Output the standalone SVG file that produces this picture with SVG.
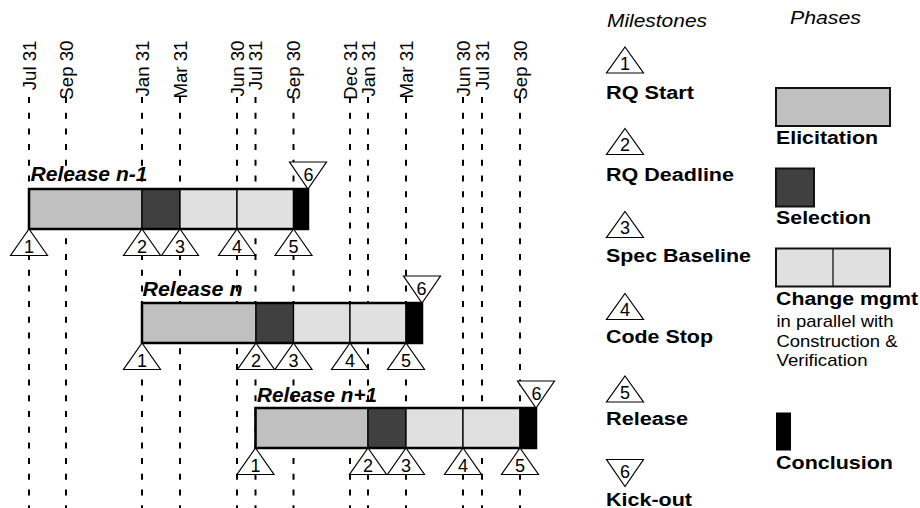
<svg xmlns="http://www.w3.org/2000/svg" width="920" height="508" viewBox="0 0 920 508">
<style>
text{font-family:"Liberation Sans",Arial,Helvetica,sans-serif;fill:#000}
.date{font-size:18.67px;text-anchor:end}
.num{font-size:18px;text-anchor:middle}
.rel{font-size:19.5px;font-weight:bold;font-style:italic}
.lab{font-size:18.67px;font-weight:bold}
.hdr{font-size:18.67px;font-style:italic}
.txt{font-size:17px}
.tri{fill:#fff;stroke:#000;stroke-width:1.2;stroke-linejoin:miter}
.seg{stroke:#000;stroke-width:1.3}
.elic{fill:#c0c0c0}
.sel{fill:#404040}
.chg{fill:#e0e0e0}
.conc{fill:#000}
.frame{fill:none;stroke:#000;stroke-width:2.5}
.box{stroke:#111;stroke-width:2}
</style>
<rect width="920" height="508" fill="#fff"/>

<g id="gridlines" stroke="#000" stroke-width="2" stroke-dasharray="6 9.7" fill="none">
<line x1="29" y1="97" x2="29" y2="508"/>
<line x1="66" y1="97" x2="66" y2="508"/>
<line x1="142" y1="97" x2="142" y2="508"/>
<line x1="180" y1="97" x2="180" y2="508"/>
<line x1="237" y1="97" x2="237" y2="508"/>
<line x1="255.5" y1="97" x2="255.5" y2="508"/>
<line x1="293.5" y1="97" x2="293.5" y2="508"/>
<line x1="350" y1="97" x2="350" y2="508"/>
<line x1="368" y1="97" x2="368" y2="508"/>
<line x1="406" y1="97" x2="406" y2="508"/>
<line x1="463" y1="97" x2="463" y2="508"/>
<line x1="482" y1="97" x2="482" y2="508"/>
<line x1="520" y1="97" x2="520" y2="508"/>
</g>

<g id="dates">
<text class="date" transform="translate(35.5,40.5) rotate(-90)">Jul 31</text>
<text class="date" transform="translate(72.5,40.5) rotate(-90)">Sep 30</text>
<text class="date" transform="translate(148.5,40.5) rotate(-90)">Jan 31</text>
<text class="date" transform="translate(186.5,40.5) rotate(-90)">Mar 31</text>
<text class="date" transform="translate(243.5,40.5) rotate(-90)">Jun 30</text>
<text class="date" transform="translate(262,40.5) rotate(-90)">Jul 31</text>
<text class="date" transform="translate(300,40.5) rotate(-90)">Sep 30</text>
<text class="date" transform="translate(356.5,40.5) rotate(-90)">Dec 31</text>
<text class="date" transform="translate(374.5,40.5) rotate(-90)">Jan 31</text>
<text class="date" transform="translate(412.5,40.5) rotate(-90)">Mar 31</text>
<text class="date" transform="translate(469.5,40.5) rotate(-90)">Jun 30</text>
<text class="date" transform="translate(488.5,40.5) rotate(-90)">Jul 31</text>
<text class="date" transform="translate(526.5,40.5) rotate(-90)">Sep 30</text>
</g>

<g id="release-n-1">
<rect class="seg elic" x="29" y="189" width="113" height="40"/>
<rect class="seg sel" x="142" y="189" width="38" height="40"/>
<rect class="seg chg" x="180" y="189" width="57" height="40"/>
<rect class="seg chg" x="237" y="189" width="56.5" height="40"/>
<rect class="seg conc" x="293.5" y="189" width="14.5" height="40"/>
<rect class="frame" x="29" y="189" width="279" height="40"/>
<text class="rel" x="30.5" y="181" textLength="117" lengthAdjust="spacingAndGlyphs">Release n-1</text>
<path class="tri" d="M29 229L47.5 255.5H10.5Z"/><text class="num" x="29" y="252.5">1</text>
<path class="tri" d="M142 229L160.5 255.5H123.5Z"/><text class="num" x="142" y="252.5">2</text>
<path class="tri" d="M180 229L198.5 255.5H161.5Z"/><text class="num" x="180" y="252.5">3</text>
<path class="tri" d="M237 229L255.5 255.5H218.5Z"/><text class="num" x="237" y="252.5">4</text>
<path class="tri" d="M293.5 229L312 255.5H275Z"/><text class="num" x="293.5" y="252.5">5</text>
<path class="tri" d="M289.5 162H326.5L308 189Z"/><text class="num" x="308.5" y="181">6</text>
</g>

<g id="release-n">
<rect class="seg elic" x="142" y="303" width="114" height="40"/>
<rect class="seg sel" x="256" y="303" width="37.5" height="40"/>
<rect class="seg chg" x="293.5" y="303" width="56.5" height="40"/>
<rect class="seg chg" x="350" y="303" width="56" height="40"/>
<rect class="seg conc" x="406" y="303" width="16" height="40"/>
<rect class="frame" x="142" y="303" width="280" height="40"/>
<text class="rel" x="142.5" y="296" textLength="100" lengthAdjust="spacingAndGlyphs">Release n</text>
<path class="tri" d="M142 343L160.5 369.5H123.5Z"/><text class="num" x="142" y="366.5">1</text>
<path class="tri" d="M256 343L274.5 369.5H237.5Z"/><text class="num" x="256" y="366.5">2</text>
<path class="tri" d="M293.5 343L312 369.5H275Z"/><text class="num" x="293.5" y="366.5">3</text>
<path class="tri" d="M350 343L368.5 369.5H331.5Z"/><text class="num" x="350" y="366.5">4</text>
<path class="tri" d="M406 343L424.5 369.5H387.5Z"/><text class="num" x="406" y="366.5">5</text>
<path class="tri" d="M403.5 276H440.5L422 303Z"/><text class="num" x="421.5" y="295">6</text>
</g>

<g id="release-n-plus-1">
<rect class="seg elic" x="255.5" y="408" width="112.5" height="40"/>
<rect class="seg sel" x="368" y="408" width="38" height="40"/>
<rect class="seg chg" x="406" y="408" width="57" height="40"/>
<rect class="seg chg" x="463" y="408" width="57" height="40"/>
<rect class="seg conc" x="520" y="408" width="16" height="40"/>
<rect class="frame" x="255.5" y="408" width="280.5" height="40"/>
<text class="rel" x="257" y="402" textLength="120" lengthAdjust="spacingAndGlyphs">Release n+1</text>
<path class="tri" d="M255.5 448L274 474.5H237Z"/><text class="num" x="255.5" y="471.5">1</text>
<path class="tri" d="M368 448L386.5 474.5H349.5Z"/><text class="num" x="368" y="471.5">2</text>
<path class="tri" d="M406 448L424.5 474.5H387.5Z"/><text class="num" x="406" y="471.5">3</text>
<path class="tri" d="M463 448L481.5 474.5H444.5Z"/><text class="num" x="463" y="471.5">4</text>
<path class="tri" d="M520 448L538.5 474.5H501.5Z"/><text class="num" x="520" y="471.5">5</text>
<path class="tri" d="M517.5 381H554.5L536 408Z"/><text class="num" x="536.5" y="400">6</text>
</g>

<g id="legend-milestones">
<text class="hdr" x="607" y="27" textLength="100" lengthAdjust="spacingAndGlyphs">Milestones</text>
<g id="ms-1">
<path class="tri" d="M625 47L643.5 73H606.5Z"/><text class="num" x="625" y="69.5">1</text>
<text class="lab" x="606" y="98.5" textLength="88" lengthAdjust="spacingAndGlyphs">RQ Start</text>
</g>
<g id="ms-2">
<path class="tri" d="M625 128.5L643.5 154.5H606.5Z"/><text class="num" x="625" y="151">2</text>
<text class="lab" x="606" y="180.5" textLength="128" lengthAdjust="spacingAndGlyphs">RQ Deadline</text>
</g>
<g id="ms-3">
<path class="tri" d="M625 211.5L643.5 237.5H606.5Z"/><text class="num" x="625" y="234">3</text>
<text class="lab" x="606" y="262" textLength="145" lengthAdjust="spacingAndGlyphs">Spec Baseline</text>
</g>
<g id="ms-4">
<path class="tri" d="M625 293.5L643.5 319.5H606.5Z"/><text class="num" x="625" y="316">4</text>
<text class="lab" x="606" y="343" textLength="107" lengthAdjust="spacingAndGlyphs">Code Stop</text>
</g>
<g id="ms-5">
<path class="tri" d="M625 376L643.5 402H606.5Z"/><text class="num" x="625" y="398.5">5</text>
<text class="lab" x="606" y="425" textLength="82" lengthAdjust="spacingAndGlyphs">Release</text>
</g>
<g id="ms-6">
<path class="tri" d="M606.5 459.5H643.5L625 486.5Z"/><text class="num" x="625" y="478">6</text>
<text class="lab" x="606" y="505.5" textLength="86" lengthAdjust="spacingAndGlyphs">Kick-out</text>
</g>
</g>

<g id="legend-phases">
<text class="hdr" x="790" y="24" textLength="71" lengthAdjust="spacingAndGlyphs">Phases</text>
<g id="ph-elicitation">
<rect class="box elic" x="776" y="88" width="114" height="38"/>
<text class="lab" x="776" y="143.5" textLength="102" lengthAdjust="spacingAndGlyphs">Elicitation</text>
</g>
<g id="ph-selection">
<rect class="box sel" x="776" y="168.5" width="38" height="38"/>
<text class="lab" x="776" y="224" textLength="95" lengthAdjust="spacingAndGlyphs">Selection</text>
</g>
<g id="ph-change">
<rect class="box chg" x="776" y="248.5" width="114" height="38"/>
<line x1="833" y1="248.5" x2="833" y2="286.5" stroke="#111" stroke-width="1.3"/>
<text class="lab" x="776" y="305" textLength="142" lengthAdjust="spacingAndGlyphs">Change mgmt</text>
<text class="txt" x="776.5" y="327" textLength="117" lengthAdjust="spacingAndGlyphs">in parallel with</text>
<text class="txt" x="776.5" y="346.5" textLength="121" lengthAdjust="spacingAndGlyphs">Construction &amp;</text>
<text class="txt" x="776.5" y="366" textLength="91" lengthAdjust="spacingAndGlyphs">Verification</text>
</g>
<g id="ph-conclusion">
<rect class="conc" x="776" y="412.5" width="15" height="38"/>
<text class="lab" x="776" y="469" textLength="117" lengthAdjust="spacingAndGlyphs">Conclusion</text>
</g>
</g>
</svg>
